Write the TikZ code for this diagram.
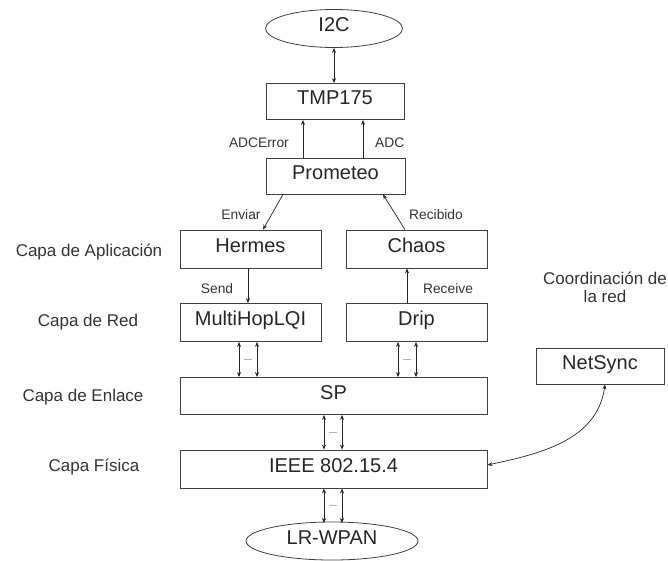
\documentclass[tikz,border=0pt]{standalone}
\usepackage{fontspec}
\setmainfont{Liberation Sans}
\usetikzlibrary{arrows.meta,shapes.geometric,calc}
\begin{document}
\begin{tikzpicture}[x=1pt,y=-1pt,
  box/.style={draw=black!75, line width=0.8pt, inner sep=0pt, text=black!85,
    font=\fontsize{20}{22}\selectfont, text height=14pt, text depth=7.6pt},
  oval/.style={box, ellipse},
  lab/.style={inner sep=0pt, text=black!80, font=\fontsize{13.8}{15}\selectfont},
  side/.style={inner sep=0pt, text=black!80, font=\fontsize{17}{19}\selectfont},
  conn/.style={draw=black!85, line width=0.7pt},
  tip/.style={-{Stealth[length=5pt,width=4pt]}},
  btip/.style={{Stealth[length=5pt,width=4pt]}-{Stealth[length=5pt,width=4pt]}},
  gap/.style={draw=black!30, line width=0.6pt}]
\useasboundingbox (0,0) rectangle (668,560);

% nodes
\node[oval, minimum width=137pt, minimum height=38pt] (i2c) at (334,28.5) {I2C};
\node[box, minimum width=138pt, minimum height=36pt] (tmp) at (335,101.5) {TMP175};
\node[box, minimum width=139pt, minimum height=36pt] (prom) at (335.5,176) {Prometeo};
\node[box, minimum width=141pt, minimum height=38pt] (herm) at (250.5,249) {Hermes};
\node[box, minimum width=141pt, minimum height=38pt] (chaos) at (416.5,249) {Chaos};
\node[box, minimum width=141pt, minimum height=38pt] (mh) at (250.5,322.5) {MultiHopLQI};
\node[box, minimum width=141pt, minimum height=38pt] (drip) at (416.5,322.5) {Drip};
\node[box, minimum width=307pt, minimum height=37pt] (sp) at (333.5,396) {SP};
\node[box, minimum width=307pt, minimum height=38pt] (ieee) at (333.5,469) {IEEE 802.15.4};
\node[oval, minimum width=172pt, minimum height=38pt] (lr) at (332,541) {LR-WPAN};
\node[box, minimum width=128pt, minimum height=36pt] (ns) at (600,366) {NetSync};

% side labels
\node[side] (l1) at (89,252) {Capa de Aplicación};
\node[side] (l2) at (88,322) {Capa de Red};
\node[side] (l3) at (83,397) {Capa de Enlace};
\node[side] (l4) at (94,467) {Capa Física};
\node[side, align=center] (l5) at (605,287) {Coordinación de\\[-1pt]la red};

% connectors
\draw[conn, btip] (i2c.south) -- (i2c.south |- tmp.north);
\draw[conn, tip] ([xshift=-32.5pt]prom.north) -- ([xshift=-32.5pt]prom.north |- tmp.south);
\draw[conn, tip] ([xshift=27.5pt]prom.north) -- ([xshift=27.5pt]prom.north |- tmp.south);
\node[lab, anchor=east] (la1) at (289,143) {ADCError};
\node[lab, anchor=west] (la2) at (375,143) {ADC};

\draw[conn, tip] ([xshift=-52.5pt]prom.south) -- ([xshift=12.5pt]herm.north);
\draw[conn, tip] ([xshift=-11.5pt]chaos.north) -- ([xshift=47.5pt]prom.south);
\node[lab] (la3) at (241,215) {Enviar};
\node[lab] (la4) at (436,215) {Recibido};

\draw[conn, tip] ([xshift=-2.5pt]herm.south) -- ([xshift=-2.5pt]mh.north);
\draw[conn, tip] ([xshift=-9.5pt]drip.north) -- ([xshift=-9.5pt]chaos.south);
\node[lab] (la5) at (217,289) {Send};
\node[lab] (la6) at (448,289) {Receive};

% double arrows with gap marks
\foreach \n/\dx/\tgt in {mh/-11.5/sp, mh/6.5/sp, drip/-18.5/sp, drip/-0.5/sp, sp/-9.5/ieee, sp/8.5/ieee}{
  \draw[conn, btip] ([xshift=\dx pt]\n.south) -- ([xshift=\dx pt]\n.south |- \tgt.north);
}
\draw[conn, btip] ([xshift=-9.5pt]ieee.south) -- ([xshift=-9.5pt]ieee.south |- 0,523);
\draw[conn, btip] ([xshift=8.5pt]ieee.south) -- ([xshift=8.5pt]ieee.south |- 0,523);

\coordinate (g1) at ($([xshift=-2.5pt]mh.south)!0.5!([xshift=-2.5pt]mh.south |- sp.north)$);
\coordinate (g2) at ($([xshift=-9.5pt]drip.south)!0.5!([xshift=-9.5pt]drip.south |- sp.north)$);
\coordinate (g3) at ($([xshift=-0.5pt]sp.south)!0.5!([xshift=-0.5pt]sp.south |- ieee.north)$);
\coordinate (g4) at ($([xshift=-0.5pt]ieee.south)!0.5!([xshift=-0.5pt]ieee.south |- 0,523)$);
\foreach \g in {g1,g2,g3,g4}{\draw[gap] ([xshift=-4pt]\g) -- ([xshift=4pt]\g);}

% NetSync curve
\draw[conn, btip] ([xshift=5pt]ns.south) to[out=-98,in=12] ([yshift=4pt]ieee.east);
\end{tikzpicture}
\end{document}
